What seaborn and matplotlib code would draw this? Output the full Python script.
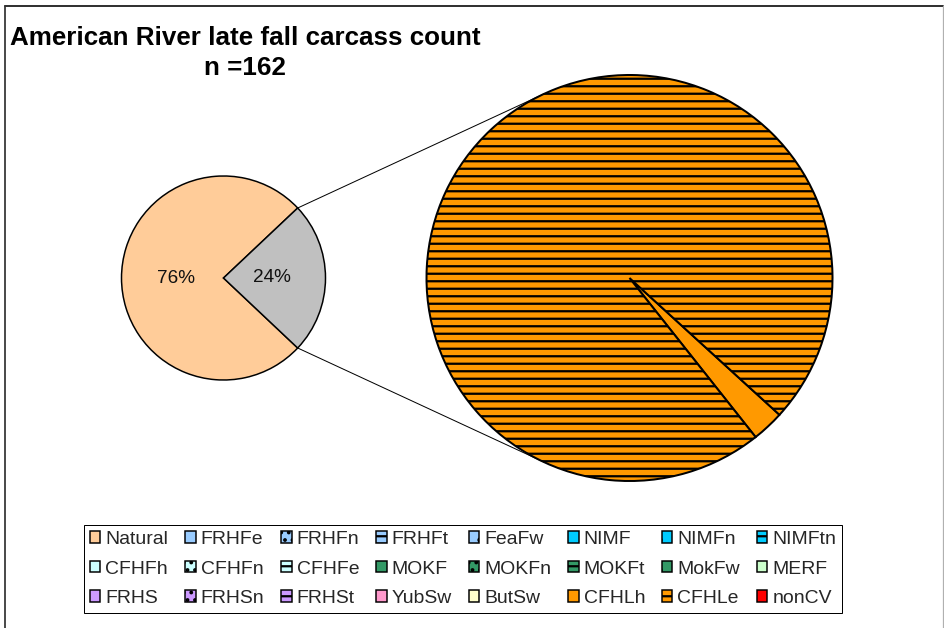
import numpy as np
import matplotlib
matplotlib.use("Agg")
import matplotlib.pyplot as plt
from matplotlib.patches import Patch
from matplotlib.lines import Line2D
import seaborn as sns

# ---- data -------------------------------------------------------------
origin_labels = ["Natural", "Hatchery"]
origin_counts = [123, 39]

hatchery_labels = ["CFHLh", "CFHLe"]
hatchery_counts = [1, 38]

stock_labels = [
    "Natural", "FRHFe", "FRHFn", "FRHFt", "FeaFw", "NIMF", "NIMFn", "NIMFtn",
    "CFHFh", "CFHFn", "CFHFe", "MOKF", "MOKFn", "MOKFt", "MokFw", "MERF",
    "FRHS", "FRHSn", "FRHSt", "YubSw", "ButSw", "CFHLh", "CFHLe", "nonCV",
]

# ---- styles -----------------------------------------------------------
stock_colors = [
    "#FFCC99", "#99CCFF", "#99CCFF", "#99CCFF", "#99CCFF", "#00CCFF", "#00CCFF", "#00CCFF",
    "#CCFFFF", "#CCFFFF", "#CCFFFF", "#339966", "#339966", "#339966", "#339966", "#CCFFCC",
    "#CC99FF", "#CC99FF", "#CC99FF", "#FF99CC", "#FFFFCC", "#FF9900", "#FF9900", "#FF0000",
]
stock_hatches = [
    None, None, "..", "--", ".", None, ".", "--",
    None, "..", "--", None, "..", "--", ".", None,
    None, "..", "--", None, None, None, "--", None,
]
origin_colors = ["#FFCC99", "#C0C0C0"]
hatchery_colors = ["#FF9900", "#FF9900"]
hatchery_hatches = [None, "--"]

sns.set_theme(style="white")
plt.rcParams["font.family"] = ["Liberation Sans", "DejaVu Sans"]
plt.rcParams["hatch.linewidth"] = 1.8

W, H, DPI = 944, 628, 90
fig = plt.figure(figsize=(W / DPI, H / DPI), dpi=DPI)
fig.patch.set_facecolor("white")
ax = fig.add_axes([0, 0, 1, 1])

# pie geometry in pixel units
c1, r1 = (223.5, H - 278.0), 102.0
c2, r2 = (629.5, H - 278.0), 203.0

# ---- origin pie ---------------------------------------------------------
total = sum(origin_counts)
frac_h = origin_counts[1] / total
start1 = 180.0 * frac_h
ax.pie(origin_counts, colors=origin_colors, startangle=start1, counterclock=True,
       center=c1, radius=r1, autopct=lambda p: f"{p:.0f}%", pctdistance=0.47,
       wedgeprops=dict(edgecolor="black", linewidth=1.2),
       textprops=dict(fontsize=15.2, color="#111111"), frame=True)

# ---- hatchery breakdown pie -------------------------------------------
wedges2, _ = ax.pie(hatchery_counts, colors=hatchery_colors, startangle=-51.6,
                    counterclock=True, center=c2, radius=r2,
                    wedgeprops=dict(edgecolor="black", linewidth=1.6), frame=True)
for w, h in zip(wedges2, hatchery_hatches):
    if h:
        w.set_hatch(h)

# ---- connector lines (tangents from the hatchery wedge to the second pie)
half = np.deg2rad(start1)
for sgn in (1, -1):
    p = np.array([c1[0] + r1 * np.cos(half), c1[1] + sgn * r1 * np.sin(half)])
    v = p - np.array(c2)
    d = np.hypot(*v)
    phi = np.arctan2(v[1], v[0]) % (2 * np.pi)
    alpha = np.arccos(r2 / d)
    t_ang = phi - sgn * alpha
    t = np.array([c2[0] + r2 * np.cos(t_ang), c2[1] + r2 * np.sin(t_ang)])
    ax.plot([p[0], t[0]], [p[1], t[1]], color="black", lw=0.8, zorder=0.5)

ax.set_xlim(0, W)
ax.set_ylim(0, H)
ax.set_aspect("equal")
ax.axis("off")

# ---- title --------------------------------------------------------------
ax.text(245, H - 45, "American River late fall carcass count", ha="center",
        va="baseline", fontsize=20.8, fontweight="bold", color="black")
ax.text(245, H - 75, f"n ={total}", ha="center", va="baseline",
        fontsize=20.8, fontweight="bold", color="black")

# ---- legend (row-major order in an 8-column grid) -----------------------
handles = [Patch(facecolor=c, edgecolor="black", hatch=h, linewidth=1.2)
           for c, h in zip(stock_colors, stock_hatches)]
ncol, nrow = 8, 3
order = [r * ncol + c for c in range(ncol) for r in range(nrow)]
leg = ax.legend([handles[i] for i in order], [stock_labels[i] for i in order],
                ncol=ncol, loc="center", bbox_to_anchor=(463, H - 569),
                bbox_transform=ax.transData, fontsize=15.5,
                handlelength=0.55, handleheight=0.55, handletextpad=0.26,
                columnspacing=0.86, labelspacing=0.64, borderpad=0.3,
                frameon=True, fancybox=False, framealpha=1, edgecolor="black")
leg.get_frame().set_linewidth(0.8)

# ---- outer chart border ---------------------------------------------------
ax.add_line(Line2D([5, W - 1], [H - 6, H - 6], color="#333333", lw=1.6))
ax.add_line(Line2D([5, 5], [0, H - 6], color="#333333", lw=1.4))
ax.add_line(Line2D([W - 1.5, W - 1.5], [0, H - 6], color="#b0b0b0", lw=1.0))

fig.savefig("out.png", dpi=DPI, facecolor="white")
